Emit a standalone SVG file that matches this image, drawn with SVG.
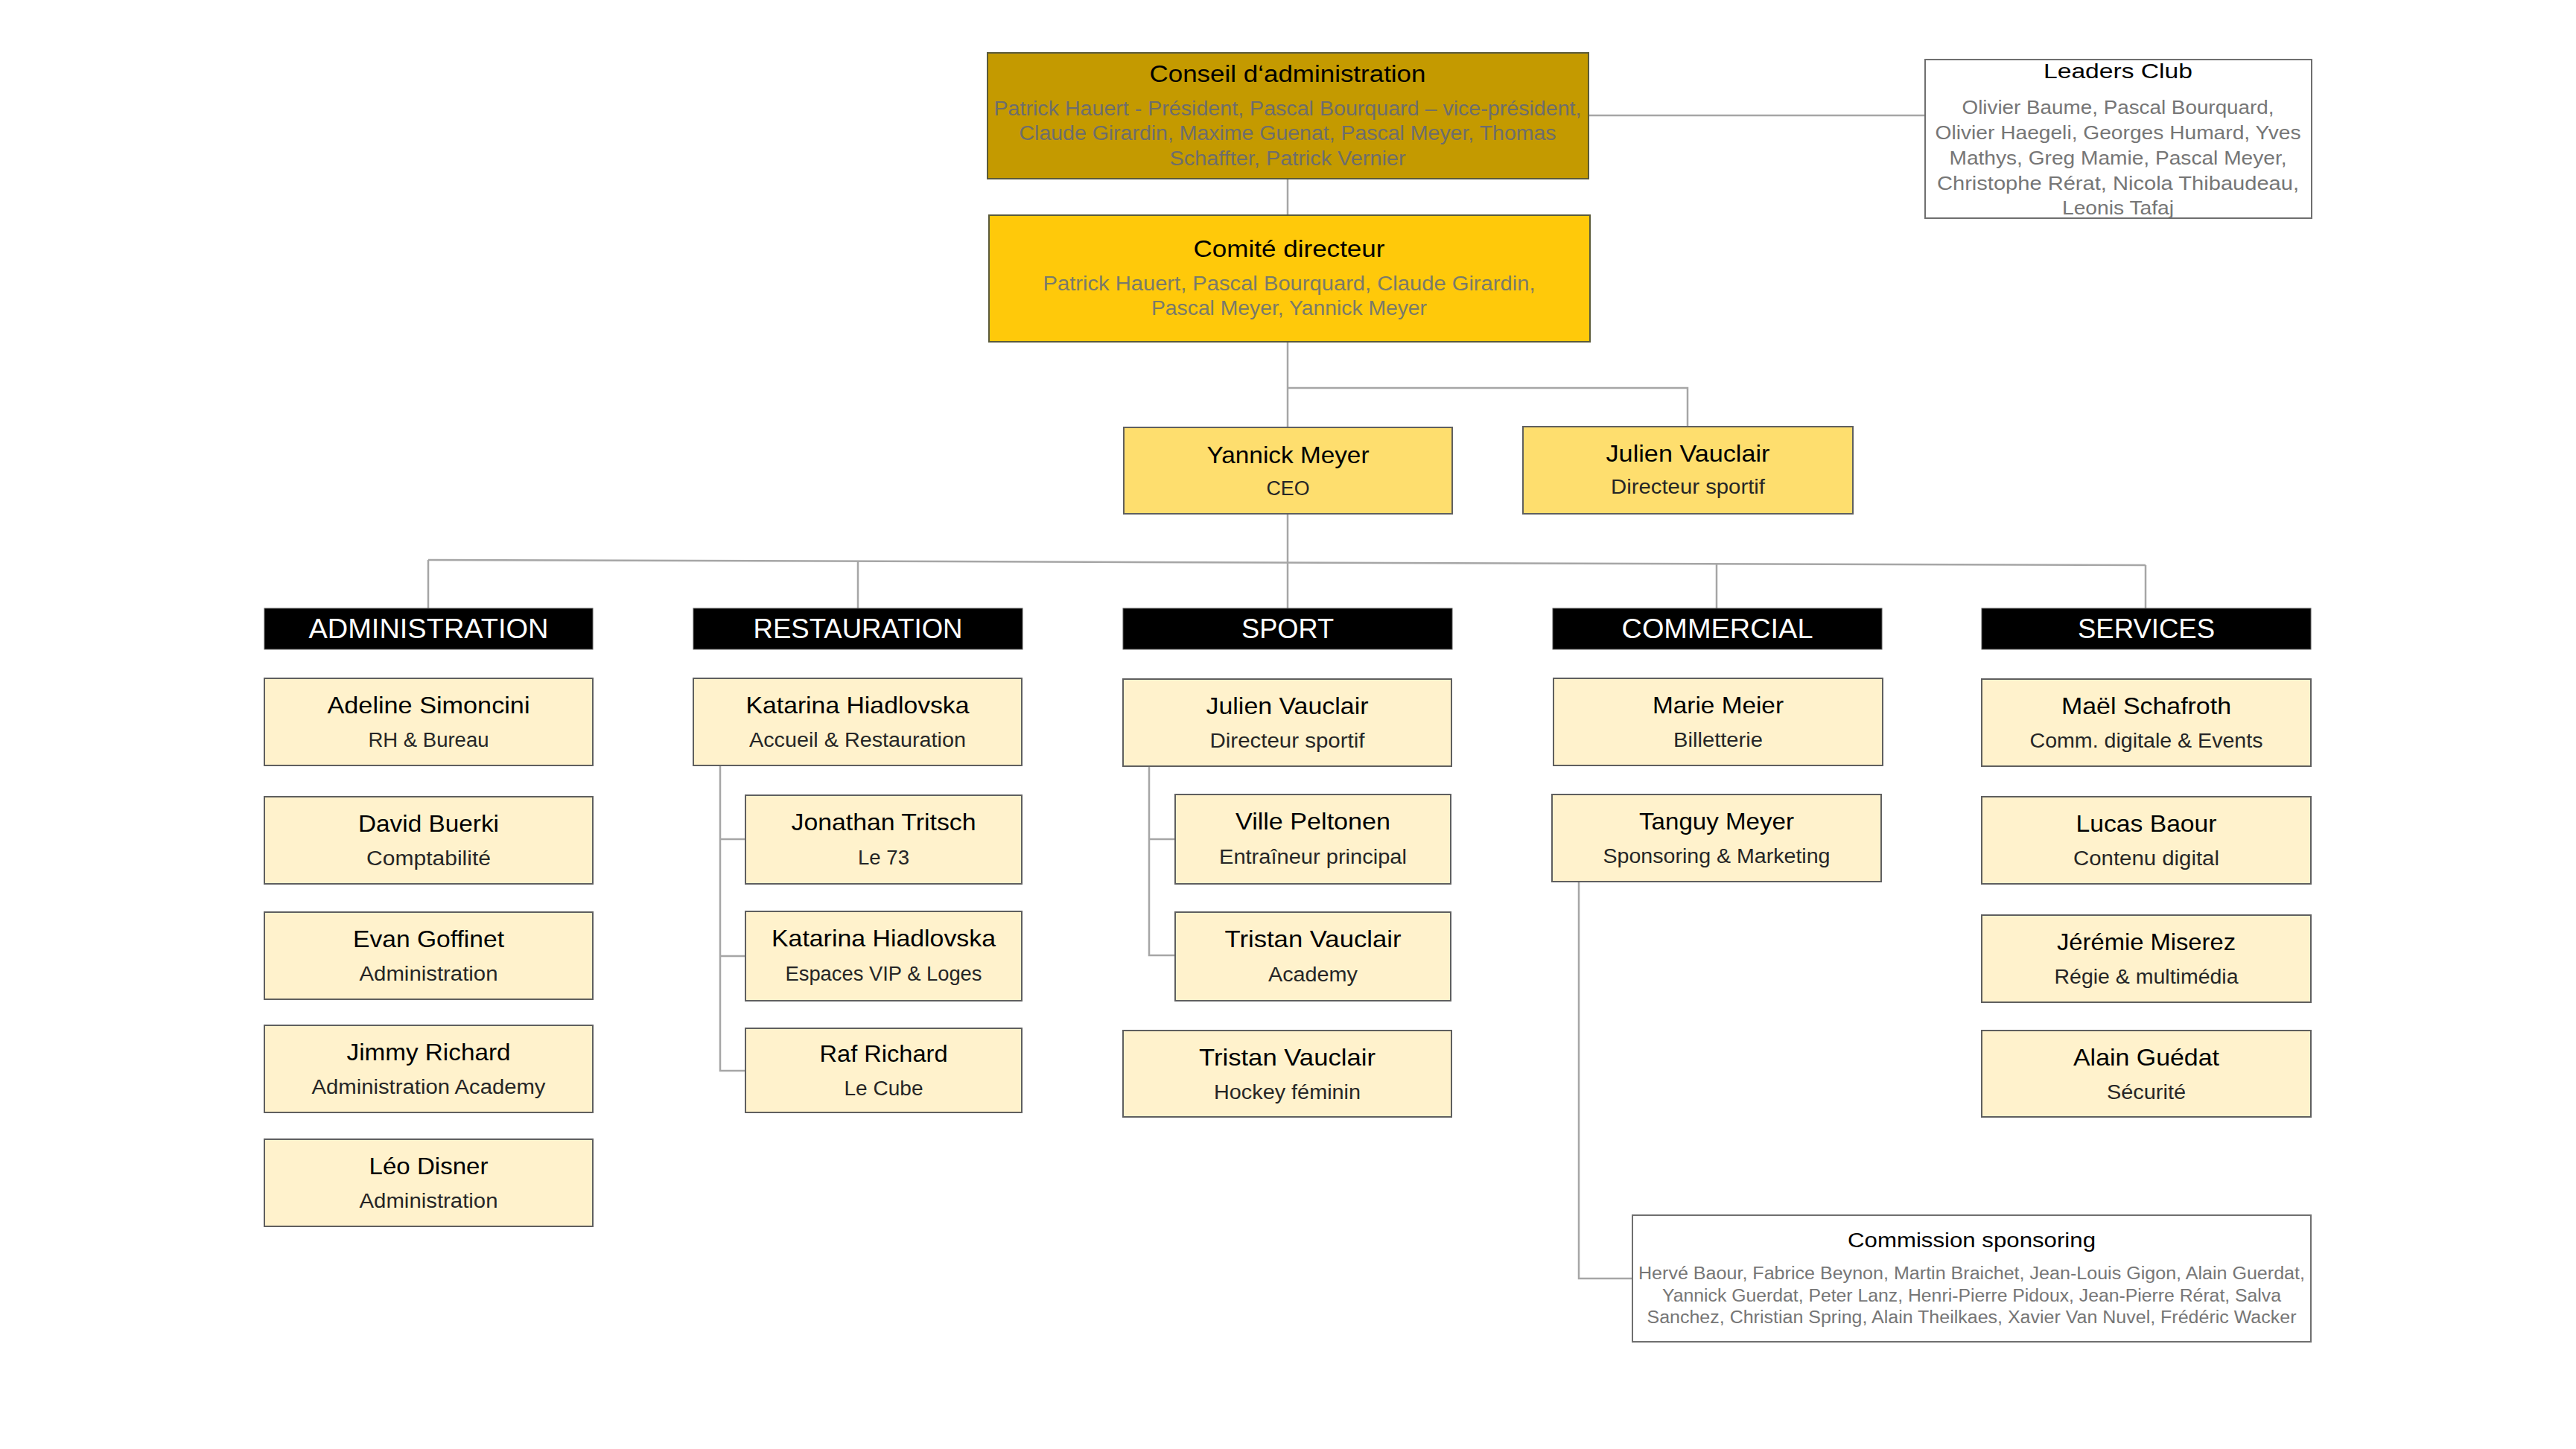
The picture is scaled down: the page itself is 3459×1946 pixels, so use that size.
<svg xmlns="http://www.w3.org/2000/svg" width="3459" height="1946" viewBox="0 0 3459 1946">
<style>
text{font-family:"Liberation Sans",Arial,sans-serif;text-anchor:middle}
.nm{font-size:32px;fill:#000}
.rl{font-size:27px;fill:#262626}
.hd{font-size:36px;fill:#fff}
.ti{font-size:31px;fill:#000}
.gr{font-size:27px;fill:#6d6d6d}
.gl{font-size:25px;fill:#767676}
.gs{font-size:23px;fill:#767676}
.staff{fill:#FFF2CC;stroke:#5f5f5f;stroke-width:2}
.hdr{fill:#000;stroke:#595959;stroke-width:1}
.white{fill:#fff;stroke:#6f6f6f;stroke-width:2}
.conn{stroke:#A6A6A6;stroke-width:2.5;fill:none}
</style>
<rect width="3459" height="1946" fill="#fff"/>
<g id="connectors" class="conn">
<path d="M2133 155H2585"/>
<path d="M1729 240V289"/>
<path d="M1729 459V574"/>
<path d="M1729 521H2266V573"/>
<path d="M1729 690V817"/>
<path d="M575 752L2881 759"/>
<path d="M575 752V817"/>
<path d="M1152 754V817"/>
<path d="M2305 757V817"/>
<path d="M2881 759V817"/>
<path d="M967 1028V1438H1001M967 1127H1001M967 1284H1001"/>
<path d="M1543 1029V1283H1578M1543 1127H1578"/>
<path d="M2120 1184V1717H2192"/>
</g>
<g id="conseil">
<rect x="1326" y="71" width="807" height="169" fill="#C49A00" stroke="#5a5a3a" stroke-width="2"/>
<text class="ti" x="1729" y="110" textLength="371" lengthAdjust="spacingAndGlyphs">Conseil d‘administration</text>
<text class="gr" x="1729" y="155" textLength="789" lengthAdjust="spacingAndGlyphs">Patrick Hauert - Président, Pascal Bourquard – vice-président,</text>
<text class="gr" x="1729" y="188" textLength="721" lengthAdjust="spacingAndGlyphs">Claude Girardin, Maxime Guenat, Pascal Meyer, Thomas</text>
<text class="gr" x="1729" y="222" textLength="317" lengthAdjust="spacingAndGlyphs">Schaffter, Patrick Vernier</text>
</g>
<g id="leaders-club">
<rect class="white" x="2585" y="80" width="519" height="213"/>
<text class="ti" style="font-size:28px" x="2844" y="105" textLength="200" lengthAdjust="spacingAndGlyphs">Leaders Club</text>
<text class="gl" x="2844" y="153" textLength="419" lengthAdjust="spacingAndGlyphs">Olivier Baume, Pascal Bourquard,</text>
<text class="gl" x="2844" y="187" textLength="491" lengthAdjust="spacingAndGlyphs">Olivier Haegeli, Georges Humard, Yves</text>
<text class="gl" x="2844" y="221" textLength="453" lengthAdjust="spacingAndGlyphs">Mathys, Greg Mamie, Pascal Meyer,</text>
<text class="gl" x="2844" y="255" textLength="486" lengthAdjust="spacingAndGlyphs">Christophe Rérat, Nicola Thibaudeau,</text>
<text class="gl" x="2844" y="288" textLength="150" lengthAdjust="spacingAndGlyphs">Leonis Tafaj</text>
</g>
<g id="comite">
<rect x="1328" y="289" width="807" height="170" fill="#FFC90A" stroke="#5a5a3a" stroke-width="2"/>
<text class="ti" x="1731" y="345" textLength="257" lengthAdjust="spacingAndGlyphs">Comité directeur</text>
<text class="gr" style="fill:#7a7a6a" x="1731" y="390" textLength="661" lengthAdjust="spacingAndGlyphs">Patrick Hauert, Pascal Bourquard,  Claude Girardin,</text>
<text class="gr" style="fill:#7a7a6a" x="1731" y="423" textLength="370" lengthAdjust="spacingAndGlyphs">Pascal Meyer, Yannick Meyer</text>
</g>
<g id="yannick-meyer">
<rect x="1509" y="574" width="441" height="116" fill="#FEDE6E" stroke="#5f5f5f" stroke-width="2"/>
<text class="nm" x="1729.5" y="622" textLength="218" lengthAdjust="spacingAndGlyphs">Yannick Meyer</text>
<text class="rl" x="1729.5" y="665" textLength="58" lengthAdjust="spacingAndGlyphs">CEO</text>
</g>
<g id="julien-vauclair-top">
<rect x="2045" y="573" width="443" height="117" fill="#FEDE6E" stroke="#5f5f5f" stroke-width="2"/>
<text class="nm" x="2266.5" y="620" textLength="220" lengthAdjust="spacingAndGlyphs">Julien Vauclair</text>
<text class="rl" x="2266.5" y="663" textLength="207" lengthAdjust="spacingAndGlyphs">Directeur sportif</text>
</g>
<g id="hdr-administration">
<rect class="hdr" x="355" y="817" width="441" height="55"/>
<text class="hd" x="575.5" y="857" textLength="322" lengthAdjust="spacingAndGlyphs">ADMINISTRATION</text>
</g>
<g id="hdr-restauration">
<rect class="hdr" x="931" y="817" width="442" height="55"/>
<text class="hd" x="1152" y="857" textLength="281" lengthAdjust="spacingAndGlyphs">RESTAURATION</text>
</g>
<g id="hdr-sport">
<rect class="hdr" x="1508" y="817" width="442" height="55"/>
<text class="hd" x="1729" y="857" textLength="124" lengthAdjust="spacingAndGlyphs">SPORT</text>
</g>
<g id="hdr-commercial">
<rect class="hdr" x="2085" y="817" width="442" height="55"/>
<text class="hd" x="2306" y="857" textLength="257" lengthAdjust="spacingAndGlyphs">COMMERCIAL</text>
</g>
<g id="hdr-services">
<rect class="hdr" x="2661" y="817" width="442" height="55"/>
<text class="hd" x="2882" y="857" textLength="184" lengthAdjust="spacingAndGlyphs">SERVICES</text>
</g>
<g id="adeline-simoncini">
<rect class="staff" x="355" y="911" width="441" height="117"/>
<text class="nm" x="575.5" y="958" textLength="272" lengthAdjust="spacingAndGlyphs">Adeline Simoncini</text>
<text class="rl" x="575.5" y="1003" textLength="162" lengthAdjust="spacingAndGlyphs">RH &amp; Bureau</text>
</g>
<g id="david-buerki">
<rect class="staff" x="355" y="1070" width="441" height="117"/>
<text class="nm" x="575.5" y="1117" textLength="189" lengthAdjust="spacingAndGlyphs">David Buerki</text>
<text class="rl" x="575.5" y="1162" textLength="167" lengthAdjust="spacingAndGlyphs">Comptabilité</text>
</g>
<g id="evan-goffinet">
<rect class="staff" x="355" y="1225" width="441" height="117"/>
<text class="nm" x="575.5" y="1272" textLength="203" lengthAdjust="spacingAndGlyphs">Evan Goffinet</text>
<text class="rl" x="575.5" y="1317" textLength="186" lengthAdjust="spacingAndGlyphs">Administration</text>
</g>
<g id="jimmy-richard">
<rect class="staff" x="355" y="1377" width="441" height="117"/>
<text class="nm" x="575.5" y="1424" textLength="220" lengthAdjust="spacingAndGlyphs">Jimmy Richard</text>
<text class="rl" x="575.5" y="1469" textLength="314" lengthAdjust="spacingAndGlyphs">Administration Academy</text>
</g>
<g id="leo-disner">
<rect class="staff" x="355" y="1530" width="441" height="117"/>
<text class="nm" x="575.5" y="1577" textLength="160" lengthAdjust="spacingAndGlyphs">Léo Disner</text>
<text class="rl" x="575.5" y="1622" textLength="186" lengthAdjust="spacingAndGlyphs">Administration</text>
</g>
<g id="katarina-hiadlovska-1">
<rect class="staff" x="931" y="911" width="441" height="117"/>
<text class="nm" x="1151.5" y="958" textLength="300" lengthAdjust="spacingAndGlyphs">Katarina Hiadlovska</text>
<text class="rl" x="1151.5" y="1003" textLength="291" lengthAdjust="spacingAndGlyphs">Accueil &amp; Restauration</text>
</g>
<g id="jonathan-tritsch">
<rect class="staff" x="1001" y="1068" width="371" height="119"/>
<text class="nm" x="1186.5" y="1115" textLength="248" lengthAdjust="spacingAndGlyphs">Jonathan Tritsch</text>
<text class="rl" x="1186.5" y="1161" textLength="69" lengthAdjust="spacingAndGlyphs">Le 73</text>
</g>
<g id="katarina-hiadlovska-2">
<rect class="staff" x="1001" y="1224" width="371" height="120"/>
<text class="nm" x="1186.5" y="1271" textLength="301" lengthAdjust="spacingAndGlyphs">Katarina Hiadlovska</text>
<text class="rl" x="1186.5" y="1317" textLength="264" lengthAdjust="spacingAndGlyphs">Espaces VIP &amp; Loges</text>
</g>
<g id="raf-richard">
<rect class="staff" x="1001" y="1381" width="371" height="113"/>
<text class="nm" x="1186.5" y="1426" textLength="172" lengthAdjust="spacingAndGlyphs">Raf Richard</text>
<text class="rl" x="1186.5" y="1471" textLength="106" lengthAdjust="spacingAndGlyphs">Le Cube</text>
</g>
<g id="julien-vauclair">
<rect class="staff" x="1508" y="912" width="441" height="117"/>
<text class="nm" x="1728.5" y="959" textLength="218" lengthAdjust="spacingAndGlyphs">Julien Vauclair</text>
<text class="rl" x="1728.5" y="1004" textLength="208" lengthAdjust="spacingAndGlyphs">Directeur sportif</text>
</g>
<g id="ville-peltonen">
<rect class="staff" x="1578" y="1067" width="370" height="120"/>
<text class="nm" x="1763" y="1114" textLength="208" lengthAdjust="spacingAndGlyphs">Ville Peltonen</text>
<text class="rl" x="1763" y="1160" textLength="252" lengthAdjust="spacingAndGlyphs">Entraîneur principal</text>
</g>
<g id="tristan-vauclair-academy">
<rect class="staff" x="1578" y="1225" width="370" height="119"/>
<text class="nm" x="1763" y="1272" textLength="237" lengthAdjust="spacingAndGlyphs">Tristan Vauclair</text>
<text class="rl" x="1763" y="1318" textLength="120" lengthAdjust="spacingAndGlyphs">Academy</text>
</g>
<g id="tristan-vauclair-hockey">
<rect class="staff" x="1508" y="1384" width="441" height="116"/>
<text class="nm" x="1728.5" y="1431" textLength="237" lengthAdjust="spacingAndGlyphs">Tristan Vauclair</text>
<text class="rl" x="1728.5" y="1476" textLength="197" lengthAdjust="spacingAndGlyphs">Hockey féminin</text>
</g>
<g id="marie-meier">
<rect class="staff" x="2086" y="911" width="442" height="117"/>
<text class="nm" x="2307" y="958" textLength="176" lengthAdjust="spacingAndGlyphs">Marie Meier</text>
<text class="rl" x="2307" y="1003" textLength="120" lengthAdjust="spacingAndGlyphs">Billetterie</text>
</g>
<g id="tanguy-meyer">
<rect class="staff" x="2084" y="1067" width="442" height="117"/>
<text class="nm" x="2305" y="1114" textLength="208" lengthAdjust="spacingAndGlyphs">Tanguy Meyer</text>
<text class="rl" x="2305" y="1159" textLength="305" lengthAdjust="spacingAndGlyphs">Sponsoring &amp; Marketing</text>
</g>
<g id="mael-schafroth">
<rect class="staff" x="2661" y="912" width="442" height="117"/>
<text class="nm" x="2882" y="959" textLength="228" lengthAdjust="spacingAndGlyphs">Maël Schafroth</text>
<text class="rl" x="2882" y="1004" textLength="313" lengthAdjust="spacingAndGlyphs">Comm. digitale &amp; Events</text>
</g>
<g id="lucas-baour">
<rect class="staff" x="2661" y="1070" width="442" height="117"/>
<text class="nm" x="2882" y="1117" textLength="189" lengthAdjust="spacingAndGlyphs">Lucas Baour</text>
<text class="rl" x="2882" y="1162" textLength="196" lengthAdjust="spacingAndGlyphs">Contenu digital</text>
</g>
<g id="jeremie-miserez">
<rect class="staff" x="2661" y="1229" width="442" height="117"/>
<text class="nm" x="2882" y="1276" textLength="240" lengthAdjust="spacingAndGlyphs">Jérémie Miserez</text>
<text class="rl" x="2882" y="1321" textLength="247" lengthAdjust="spacingAndGlyphs">Régie &amp; multimédia</text>
</g>
<g id="alain-guedat">
<rect class="staff" x="2661" y="1384" width="442" height="116"/>
<text class="nm" x="2882" y="1431" textLength="196" lengthAdjust="spacingAndGlyphs">Alain Guédat</text>
<text class="rl" x="2882" y="1476" textLength="106" lengthAdjust="spacingAndGlyphs">Sécurité</text>
</g>
<g id="commission-sponsoring">
<rect class="white" x="2192" y="1632" width="911" height="170"/>
<text class="ti" style="font-size:27px" x="2647.5" y="1675" textLength="333" lengthAdjust="spacingAndGlyphs">Commission sponsoring</text>
<text class="gs" x="2647.5" y="1718" textLength="895" lengthAdjust="spacingAndGlyphs">Hervé Baour, Fabrice Beynon, Martin Braichet, Jean-Louis Gigon, Alain Guerdat,</text>
<text class="gs" x="2647.5" y="1748" textLength="831" lengthAdjust="spacingAndGlyphs">Yannick Guerdat, Peter Lanz, Henri-Pierre Pidoux, Jean-Pierre Rérat, Salva</text>
<text class="gs" x="2647.5" y="1777" textLength="872" lengthAdjust="spacingAndGlyphs">Sanchez, Christian Spring, Alain Theilkaes, Xavier Van Nuvel, Frédéric Wacker</text>
</g>
</svg>
